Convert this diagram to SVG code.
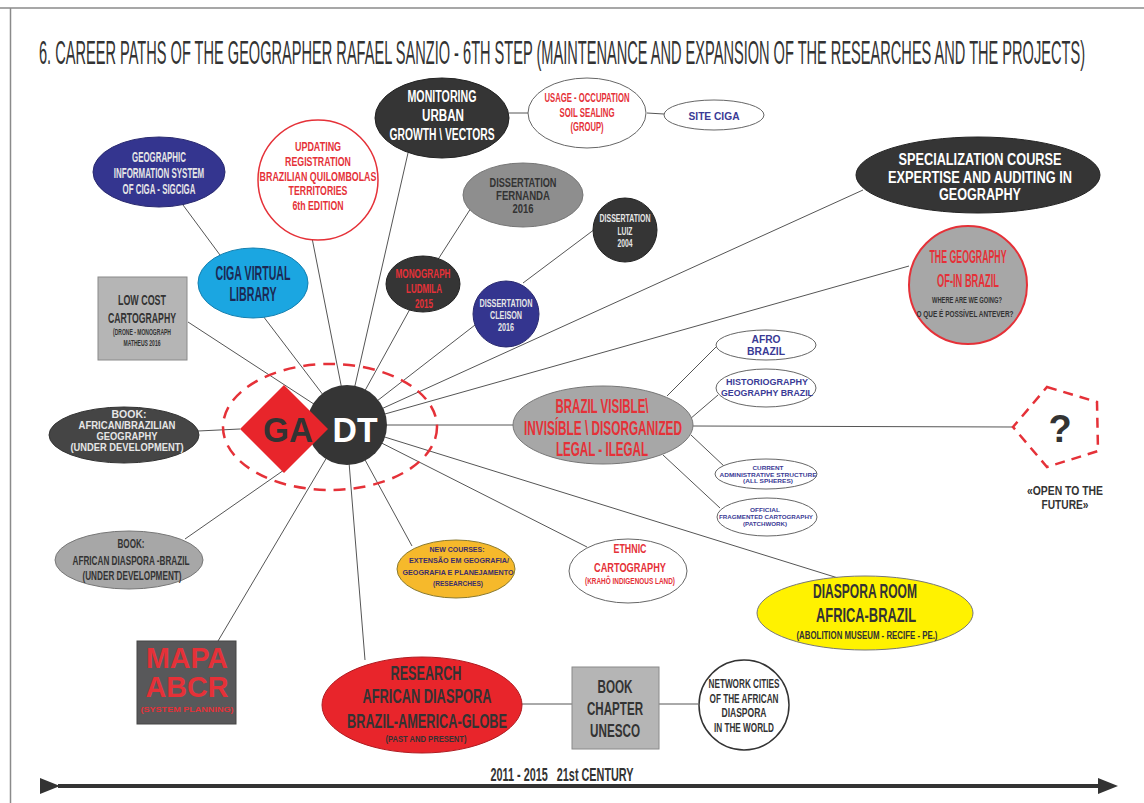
<svg xmlns="http://www.w3.org/2000/svg" width="1144" height="803" viewBox="0 0 1144 803">
<style>
text{font-family:"Liberation Sans",Arial,sans-serif;font-weight:bold;text-anchor:middle}
.ln{stroke:#555;stroke-width:1;fill:none}
.dk{fill:#353535;stroke:#222;stroke-width:1}
.wh{fill:#fff;stroke:#666;stroke-width:1}
.gr{fill:#a7a7a7;stroke:#777;stroke-width:1}
.tw{fill:#fff}
.tl{fill:#e6e6e6}
.tr{fill:#e53138}
.tb{fill:#3a3a95}
.td{fill:#333}
</style>
<defs>
<marker id="ah" viewBox="0 0 20 16" refX="2" refY="8" markerWidth="20" markerHeight="16" markerUnits="userSpaceOnUse" orient="auto"><path d="M0,0 L20,8 L0,16 Z" fill="#333"/></marker>
</defs>
<rect x="0" y="0" width="1144" height="803" fill="#fff"/>
<g id="frame">
<line x1="0" y1="8" x2="1144" y2="8" stroke="#8a8a8a" stroke-width="1.5"/>
<line x1="10.5" y1="8" x2="10.5" y2="803" stroke="#8a8a8a" stroke-width="1.5"/>
</g>
<g transform="translate(562,64) scale(0.4,1)">
<text x="0" y="0" font-size="34" style="font-weight:normal" fill="#333" textLength="2615" lengthAdjust="spacingAndGlyphs">6. CAREER PATHS OF THE GEOGRAPHER RAFAEL SANZIO  - 6TH STEP (MAINTENANCE AND EXPANSION OF THE RESEARCHES AND THE PROJECTS)</text>
</g>

<g id="connectors">
<line class="ln" x1="183" y1="205" x2="220" y2="255"/>
<line class="ln" x1="263" y1="316" x2="346" y2="425"/>
<line class="ln" x1="188" y1="322" x2="346" y2="425"/>
<line class="ln" x1="312" y1="238" x2="344" y2="400"/>
<line class="ln" x1="408" y1="153" x2="346" y2="425"/>
<line class="ln" x1="509" y1="113" x2="528" y2="113"/>
<line class="ln" x1="647" y1="113" x2="664" y2="114"/>
<line class="ln" x1="471" y1="208" x2="437" y2="261"/>
<line class="ln" x1="410" y1="309" x2="346" y2="425"/>
<line class="ln" x1="595" y1="229" x2="523" y2="283"/>
<line class="ln" x1="475" y1="325" x2="346" y2="425"/>
<line class="ln" x1="863" y1="190" x2="346" y2="425"/>
<line class="ln" x1="909" y1="266" x2="346" y2="425"/>
<line class="ln" x1="346" y1="425" x2="513" y2="425"/>
<line class="ln" x1="693" y1="426" x2="1013" y2="427"/>
<line class="ln" x1="667" y1="396" x2="717" y2="346"/>
<line class="ln" x1="690" y1="419" x2="718" y2="395"/>
<line class="ln" x1="691" y1="435" x2="725" y2="467"/>
<line class="ln" x1="663" y1="455" x2="720" y2="508"/>
<line class="ln" x1="346" y1="425" x2="838" y2="578"/>
<line class="ln" x1="346" y1="425" x2="587" y2="547"/>
<line class="ln" x1="346" y1="425" x2="412" y2="546"/>
<line class="ln" x1="346" y1="425" x2="365" y2="660"/>
<line class="ln" x1="521" y1="704" x2="572" y2="704"/>
<line class="ln" x1="659" y1="704" x2="698" y2="704"/>
<line class="ln" x1="346" y1="425" x2="218" y2="641"/>
<line class="ln" x1="185" y1="539" x2="284" y2="470"/>
<line class="ln" x1="198" y1="431" x2="240" y2="429"/>
</g>

<g id="halo">
<ellipse cx="330" cy="427" rx="107" ry="63" fill="none" stroke="#e53138" stroke-width="2.5" stroke-dasharray="12 8"/>
</g>

<g id="dt">
<circle cx="347" cy="425" r="40" fill="#353535"/>
<text x="355" y="442" font-size="35" class="tw" textLength="45" lengthAdjust="spacingAndGlyphs">DT</text>
</g>
<g id="ga">
<polygon points="284,385 328,429 284,473 240,429" fill="#e8252b"/>
<text x="288" y="442" font-size="35" class="td" textLength="50" lengthAdjust="spacingAndGlyphs">GA</text>
</g>

<g id="sigciga">
<ellipse cx="159" cy="172" rx="66" ry="35" fill="#34358f" stroke="#2a2a70"/>
<g transform="translate(159,0) scale(0.7,1)">
<text class="tl" font-size="15" x="0" y="162" textLength="77" lengthAdjust="spacingAndGlyphs">GEOGRAPHIC</text>
<text class="tl" font-size="15" x="0" y="178" textLength="129" lengthAdjust="spacingAndGlyphs">INFORMATION SYSTEM</text>
<text class="tl" font-size="15" x="0" y="194" textLength="104" lengthAdjust="spacingAndGlyphs">OF CIGA - SIGCIGA</text>
</g>
</g>

<g id="library">
<ellipse cx="253" cy="283" rx="55" ry="35" fill="#1ba6e1" stroke="#1580b0"/>
<text font-size="21" fill="#1c2a55" x="253" y="280" textLength="75" lengthAdjust="spacingAndGlyphs">CIGA VIRTUAL</text>
<text font-size="21" fill="#1c2a55" x="253" y="301" textLength="47" lengthAdjust="spacingAndGlyphs">LIBRARY</text>
</g>

<g id="lowcost">
<rect x="98" y="277" width="89" height="83" fill="#b5b5b5" stroke="#8a8a8a"/>
<text class="td" font-size="15" x="142" y="305" textLength="48" lengthAdjust="spacingAndGlyphs">LOW COST</text>
<text class="td" font-size="15" x="142" y="323" textLength="68" lengthAdjust="spacingAndGlyphs">CARTOGRAPHY</text>
<text class="td" font-size="8.5" x="142" y="335" textLength="58" lengthAdjust="spacingAndGlyphs">(DRONE - MONOGRAPH</text>
<text class="td" font-size="8.5" x="142" y="346" textLength="37" lengthAdjust="spacingAndGlyphs">MATHEUS 2016</text>
</g>

<g id="updating">
<circle cx="318" cy="180" r="60" fill="#fff" stroke="#e53138" stroke-width="1.5"/>
<g transform="translate(318,0) scale(0.7,1)">
<text class="tr" font-size="13" x="0" y="151" textLength="66" lengthAdjust="spacingAndGlyphs">UPDATING</text>
<text class="tr" font-size="13" x="0" y="166" textLength="94" lengthAdjust="spacingAndGlyphs">REGISTRATION</text>
<text class="tr" font-size="13" x="0" y="181" textLength="167" lengthAdjust="spacingAndGlyphs">BRAZILIAN QUILOMBOLAS</text>
<text class="tr" font-size="13" x="0" y="195" textLength="84" lengthAdjust="spacingAndGlyphs">TERRITORIES</text>
<text class="tr" font-size="13" x="0" y="210" textLength="73" lengthAdjust="spacingAndGlyphs">6th EDITION</text>
</g>
</g>

<g id="monitoring">
<ellipse cx="442" cy="118" rx="67" ry="40" class="dk"/>
<text class="tw" font-size="16" x="442" y="102" textLength="69" lengthAdjust="spacingAndGlyphs">MONITORING</text>
<text class="tw" font-size="16" x="443" y="121" textLength="42" lengthAdjust="spacingAndGlyphs">URBAN</text>
<text class="tw" font-size="16" x="442" y="140" textLength="105" lengthAdjust="spacingAndGlyphs">GROWTH \ VECTORS</text>
</g>

<g id="usage">
<ellipse cx="587" cy="113" rx="59" ry="35" class="wh"/>
<text class="tr" font-size="12.5" x="587" y="102" textLength="85" lengthAdjust="spacingAndGlyphs">USAGE - OCCUPATION</text>
<text class="tr" font-size="12.5" x="587" y="117" textLength="55" lengthAdjust="spacingAndGlyphs">SOIL SEALING</text>
<text class="tr" font-size="12.5" x="587" y="131" textLength="33" lengthAdjust="spacingAndGlyphs">(GROUP)</text>
</g>

<g id="siteciga">
<ellipse cx="714" cy="115" rx="50" ry="15" class="wh"/>
<text class="tb" font-size="11" x="714" y="120" textLength="51" lengthAdjust="spacingAndGlyphs">SITE CIGA</text>
</g>

<g id="fernanda">
<ellipse cx="523" cy="195" rx="60" ry="32" fill="#8e8e8e" stroke="#777"/>
<text class="td" font-size="13" x="523" y="187" textLength="67" lengthAdjust="spacingAndGlyphs">DISSERTATION</text>
<text class="td" font-size="13" x="523" y="200" textLength="54" lengthAdjust="spacingAndGlyphs">FERNANDA</text>
<text class="td" font-size="13" x="523" y="213" textLength="21" lengthAdjust="spacingAndGlyphs">2016</text>
</g>

<g id="ludmila">
<ellipse cx="423" cy="284" rx="37" ry="28" class="dk"/>
<text class="tr" font-size="13" x="423" y="278" textLength="55" lengthAdjust="spacingAndGlyphs">MONOGRAPH</text>
<text class="tr" font-size="13" x="424" y="293" textLength="36" lengthAdjust="spacingAndGlyphs">LUDMILA</text>
<text class="tr" font-size="13" x="424" y="308" textLength="18" lengthAdjust="spacingAndGlyphs">2015</text>
</g>

<g id="luiz">
<circle cx="625" cy="230" r="32" class="dk"/>
<text class="tl" font-size="10" x="625" y="222" textLength="51" lengthAdjust="spacingAndGlyphs">DISSERTATION</text>
<text class="tl" font-size="10" x="625" y="235" textLength="15" lengthAdjust="spacingAndGlyphs">LUIZ</text>
<text class="tl" font-size="10" x="625" y="247" textLength="15" lengthAdjust="spacingAndGlyphs">2004</text>
</g>

<g id="cleison">
<circle cx="506" cy="314" r="33" fill="#34358f" stroke="#2a2a70"/>
<text class="tl" font-size="10" x="506" y="307" textLength="53" lengthAdjust="spacingAndGlyphs">DISSERTATION</text>
<text class="tl" font-size="10" x="506" y="319" textLength="32" lengthAdjust="spacingAndGlyphs">CLEISON</text>
<text class="tl" font-size="10" x="506" y="331" textLength="16" lengthAdjust="spacingAndGlyphs">2016</text>
</g>

<g id="specialization">
<ellipse cx="978" cy="175" rx="122" ry="38" class="dk"/>
<text class="tw" font-size="16" x="980" y="165" textLength="163" lengthAdjust="spacingAndGlyphs">SPECIALIZATION COURSE</text>
<text class="tw" font-size="16" x="980" y="183" textLength="184" lengthAdjust="spacingAndGlyphs">EXPERTISE AND AUDITING IN</text>
<text class="tw" font-size="16" x="980" y="200" textLength="82" lengthAdjust="spacingAndGlyphs">GEOGRAPHY</text>
</g>

<g id="geography">
<circle cx="968" cy="285" r="59" fill="#a7a7a7" stroke="#e53138" stroke-width="2"/>
<text class="tr" font-size="18" x="968" y="263" textLength="77" lengthAdjust="spacingAndGlyphs">THE GEOGRAPHY</text>
<text class="tr" font-size="18" x="968" y="287" textLength="62" lengthAdjust="spacingAndGlyphs">OF-IN BRAZIL</text>
<text class="td" font-size="9" x="967" y="303" textLength="70" lengthAdjust="spacingAndGlyphs">WHERE ARE WE GOING?</text>
<text class="td" font-size="9" x="965" y="317" textLength="97" lengthAdjust="spacingAndGlyphs">O QUE É POSSÍVEL ANTEVER?</text>
</g>

<g id="brazil">
<ellipse cx="603" cy="425" rx="90" ry="39" class="gr"/>
<text class="tr" font-size="20" x="602" y="413" textLength="93" lengthAdjust="spacingAndGlyphs">BRAZIL VISIBLE\</text>
<text class="tr" font-size="20" x="603" y="435" textLength="158" lengthAdjust="spacingAndGlyphs">INVISÍBLE \ DISORGANIZED</text>
<text class="tr" font-size="20" x="602" y="456" textLength="92" lengthAdjust="spacingAndGlyphs">LEGAL - ILEGAL</text>
</g>

<g id="afro">
<ellipse cx="766" cy="345" rx="50" ry="15" class="wh"/>
<text class="tb" font-size="11" x="766" y="343" textLength="29" lengthAdjust="spacingAndGlyphs">AFRO</text>
<text class="tb" font-size="11" x="766" y="355" textLength="38" lengthAdjust="spacingAndGlyphs">BRAZIL</text>
</g>

<g id="historiography">
<ellipse cx="766" cy="388" rx="50" ry="19" class="wh"/>
<text class="tb" font-size="9.5" x="767" y="385" textLength="82" lengthAdjust="spacingAndGlyphs">HISTORIOGRAPHY</text>
<text class="tb" font-size="9.5" x="767" y="396" textLength="92" lengthAdjust="spacingAndGlyphs">GEOGRAPHY BRAZIL</text>
</g>

<g id="current">
<ellipse cx="766" cy="474" rx="51" ry="15" class="wh"/>
<text class="tb" font-size="6" x="768" y="470" textLength="31" lengthAdjust="spacingAndGlyphs">CURRENT</text>
<text class="tb" font-size="6" x="768" y="476.5" textLength="97" lengthAdjust="spacingAndGlyphs">ADMINISTRATIVE STRUCTURE</text>
<text class="tb" font-size="6" x="768" y="483" textLength="50" lengthAdjust="spacingAndGlyphs">(ALL SPHERES)</text>
</g>

<g id="official">
<ellipse cx="767" cy="517" rx="50" ry="19" class="wh"/>
<text class="tb" font-size="6" x="765" y="512" textLength="30" lengthAdjust="spacingAndGlyphs">OFFICIAL</text>
<text class="tb" font-size="6" x="766" y="519" textLength="94" lengthAdjust="spacingAndGlyphs">FRAGMENTED CARTOGRAPHY</text>
<text class="tb" font-size="6" x="765" y="526" textLength="44" lengthAdjust="spacingAndGlyphs">(PATCHWORK)</text>
</g>

<g id="future">
<polygon points="1047,387 1097,402 1098,451 1047,467 1013,427" fill="#fff" stroke="#e53138" stroke-width="2.5" stroke-dasharray="10 7"/>
<text class="td" font-size="38" x="1060" y="442">?</text>
<text class="td" font-size="13.5" x="1065" y="495" textLength="76" lengthAdjust="spacingAndGlyphs">«OPEN TO THE</text>
<text class="td" font-size="13.5" x="1065" y="509" textLength="47" lengthAdjust="spacingAndGlyphs">FUTURE»</text>
</g>

<g id="diaspora-room">
<ellipse cx="865" cy="613" rx="108" ry="37" fill="#fff200" stroke="#777"/>
<text class="td" font-size="20" x="865" y="598" textLength="104" lengthAdjust="spacingAndGlyphs">DIASPORA ROOM</text>
<text class="td" font-size="20" x="866" y="622" textLength="100" lengthAdjust="spacingAndGlyphs">AFRICA-BRAZIL</text>
<text class="td" font-size="10" x="867" y="639" textLength="141" lengthAdjust="spacingAndGlyphs">(ABOLITION MUSEUM - RECIFE - PE.)</text>
</g>

<g id="ethnic">
<ellipse cx="628" cy="571" rx="59" ry="32" class="wh"/>
<text class="tr" font-size="13" x="630" y="553" textLength="33" lengthAdjust="spacingAndGlyphs">ETHNIC</text>
<text class="tr" font-size="13" x="630" y="572" textLength="72" lengthAdjust="spacingAndGlyphs">CARTOGRAPHY</text>
<text class="tr" font-size="8.5" x="630" y="584" textLength="90" lengthAdjust="spacingAndGlyphs">(KRAHÔ INDIGENOUS LAND)</text>
</g>

<g id="newcourses">
<ellipse cx="456" cy="569" rx="59" ry="29" fill="#f6b92b" stroke="#8a7a30"/>
<text font-size="8" fill="#3b2d6b" x="457" y="552" textLength="55" lengthAdjust="spacingAndGlyphs">NEW COURSES:</text>
<text font-size="8" fill="#3b2d6b" x="459" y="563" textLength="100" lengthAdjust="spacingAndGlyphs">EXTENSÃO EM GEOGRAFIA/</text>
<text font-size="8" fill="#3b2d6b" x="458" y="575" textLength="111" lengthAdjust="spacingAndGlyphs">GEOGRAFIA E PLANEJAMENTO</text>
<text font-size="8" fill="#3b2d6b" x="458" y="586" textLength="50" lengthAdjust="spacingAndGlyphs">(RESEARCHES)</text>
</g>

<g id="research">
<ellipse cx="422" cy="705" rx="100" ry="48" fill="#e8252b" stroke="#b01a20"/>
<text class="td" font-size="19.5" x="426" y="680" textLength="71" lengthAdjust="spacingAndGlyphs">RESEARCH</text>
<text class="td" font-size="19.5" x="427" y="703" textLength="129" lengthAdjust="spacingAndGlyphs">AFRICAN DIASPORA</text>
<text class="td" font-size="19.5" x="427" y="728" textLength="160" lengthAdjust="spacingAndGlyphs">BRAZIL-AMERICA-GLOBE</text>
<text class="td" font-size="9" x="426" y="742" textLength="81" lengthAdjust="spacingAndGlyphs">(PAST AND PRESENT)</text>
</g>

<g id="bookchapter">
<rect x="572" y="667" width="87" height="82" fill="#b5b5b5" stroke="#8a8a8a"/>
<text class="td" font-size="19" x="615" y="693" textLength="35" lengthAdjust="spacingAndGlyphs">BOOK</text>
<text class="td" font-size="19" x="615" y="715" textLength="56" lengthAdjust="spacingAndGlyphs">CHAPTER</text>
<text class="td" font-size="19" x="615" y="737" textLength="50" lengthAdjust="spacingAndGlyphs">UNESCO</text>
</g>

<g id="network">
<circle cx="744" cy="705" r="45" fill="#fff" stroke="#333" stroke-width="1.5"/>
<text class="td" font-size="12.5" x="744" y="688" textLength="71" lengthAdjust="spacingAndGlyphs">NETWORK CITIES</text>
<text class="td" font-size="12.5" x="744" y="703" textLength="69" lengthAdjust="spacingAndGlyphs">OF THE AFRICAN</text>
<text class="td" font-size="12.5" x="744" y="717" textLength="45" lengthAdjust="spacingAndGlyphs">DIASPORA</text>
<text class="td" font-size="12.5" x="744" y="732" textLength="60" lengthAdjust="spacingAndGlyphs">IN THE WORLD</text>
</g>

<g id="mapa">
<rect x="137" y="641" width="99" height="83" fill="#58585a" stroke="#444"/>
<text class="tr" font-size="29" x="187" y="668" textLength="82" lengthAdjust="spacingAndGlyphs">MAPA</text>
<text class="tr" font-size="29" x="187" y="697" textLength="83" lengthAdjust="spacingAndGlyphs">ABCR</text>
<text class="tr" font-size="8" x="187" y="712" textLength="93" lengthAdjust="spacingAndGlyphs">(SYSTEM PLANNING)</text>
</g>

<g id="book-diaspora">
<ellipse cx="129" cy="560" rx="74" ry="29" class="gr"/>
<text class="td" font-size="13" x="131" y="548" textLength="27" lengthAdjust="spacingAndGlyphs">BOOK:</text>
<text class="td" font-size="13" x="131" y="565" textLength="117" lengthAdjust="spacingAndGlyphs">AFRICAN DIASPORA -BRAZIL</text>
<text class="td" font-size="13" x="132" y="580" textLength="99" lengthAdjust="spacingAndGlyphs">(UNDER DEVELOPMENT)</text>
</g>

<g id="book-geography">
<ellipse cx="124" cy="435" rx="75" ry="28" fill="#454545" stroke="#333"/>
<text class="tl" font-size="11" x="129" y="418" textLength="35" lengthAdjust="spacingAndGlyphs">BOOK:</text>
<text class="tl" font-size="11" x="127" y="429" textLength="97" lengthAdjust="spacingAndGlyphs">AFRICAN/BRAZILIAN</text>
<text class="tl" font-size="11" x="127" y="440" textLength="61" lengthAdjust="spacingAndGlyphs">GEOGRAPHY</text>
<text class="tl" font-size="11" x="127" y="451" textLength="113" lengthAdjust="spacingAndGlyphs">(UNDER DEVELOPMENT)</text>
</g>

<g id="timeline">
<line x1="58" y1="786" x2="1100" y2="786" stroke="#333" stroke-width="4" marker-end="url(#ah)"/>
<polygon points="40,778 60,786 40,794" fill="#333"/>
<text class="td" font-size="18" x="562" y="781" textLength="143" lengthAdjust="spacingAndGlyphs">2011 - 2015&#160;&#160; 21st CENTURY</text>
</g>
</svg>
